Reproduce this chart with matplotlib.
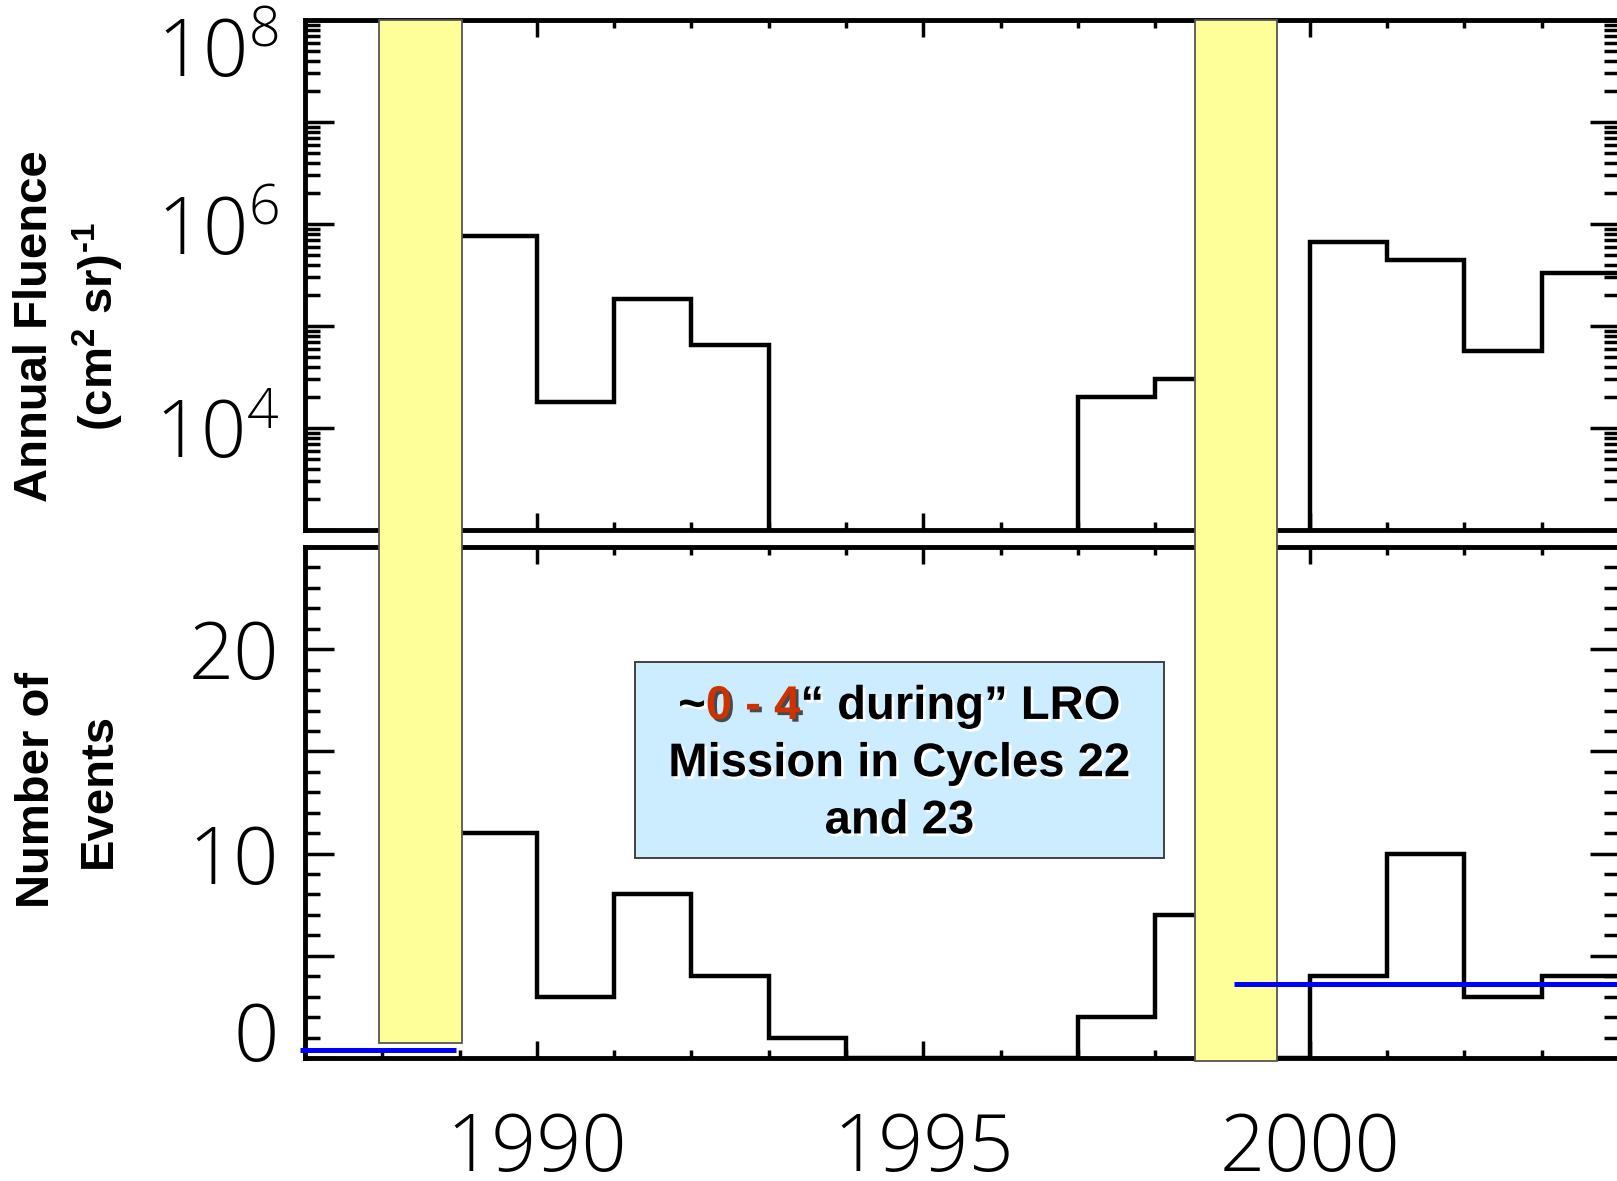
import os
import numpy as np
import matplotlib
matplotlib.use("Agg")
import matplotlib.pyplot as plt
import matplotlib.ticker as ticker
import matplotlib.transforms as mtransforms
import matplotlib.patheffects as pe
from matplotlib import font_manager
from matplotlib.ft2font import FT2Font
from matplotlib.patches import Rectangle

# yearly bins 1989..2003 (edges run to 2004)
bin_edges = np.arange(1989, 2005)
fluence = [7.6e5, 1.8e4, 1.85e5, 6.5e4, 0, 0, 0, 0, 2.0e4, 3.0e4, 0, 6.6e5, 4.4e5, 5.7e4, 3.3e5]
events = [11, 3, 8, 4, 1, 0, 0, 0, 2, 7, 0, 4, 10, 3, 4]

# LRO mission windows (yellow) and their lower end in event units
mission_years = [(1987.96, 1989.03), (1998.51, 1999.58)]
mission_bottom = [0.73, -0.16]

# blue level lines
blue_years = [(1986.93, 1988.95), (1999.02, 2004.0)]
blue_levels = [0.4, 3.6]

major_years = [1990, 1995, 2000]
box_years = (1991.27, 1998.11)
box_events = (9.8, 19.35)


def has_font(name, key):
    return any(f.name == name and key in os.path.basename(f.fname)
               for f in font_manager.fontManager.ttflist)


# thin sans for the numbers
if has_font('Open Sans', 'Light'):
    tick_family = 'Open Sans'
elif has_font('Roboto', 'Light'):
    tick_family = 'Roboto'
else:
    tick_family = 'DejaVu Sans'
plt.rcParams['font.family'] = [tick_family, 'DejaVu Sans']
plt.rcParams['font.weight'] = 300
LBL = dict(family=['Liberation Sans', 'DejaVu Sans'], weight='bold')

bold_file = font_manager.findfont(font_manager.FontProperties(family='Liberation Sans', weight='bold'))
hyphen = '\u2013'
for cp in (0x2010, 0x2011):
    if FT2Font(bold_file).get_char_index(cp):
        hyphen = chr(cp)
        break

W, H = 1617, 1181
fig = plt.figure(figsize=(W / 100, H / 100), dpi=100)
left, right = 305 / W, 1619 / W
ax1 = fig.add_axes([left, 1 - 530 / H, right - left, 510 / H])
ax2 = fig.add_axes([left, 1 - 1058 / H, right - left, 511 / H])

for ax in (ax1, ax2):
    for s in ax.spines.values():
        s.set_linewidth(3.5)
    ax.set_xlim(1987, 2004)
    ax.xaxis.set_major_locator(ticker.FixedLocator(major_years))
    ax.xaxis.set_minor_locator(ticker.MultipleLocator(1))
    ax.tick_params(axis='both', which='both', direction='in', top=True, right=True,
                   width=2.5, labelsize=57)
    ax.tick_params(axis='x', which='major', length=12, pad=38)
    ax.tick_params(axis='x', which='minor', length=6)
    ax.tick_params(axis='y', which='major', length=21, pad=19)
    ax.tick_params(axis='y', which='minor', length=11)

# top panel: annual fluence, log scale
ax1.set_yscale('log')
ax1.set_ylim(1e3, 1e8)
ax1.yaxis.set_major_locator(ticker.FixedLocator(10.0 ** np.arange(3, 9)))
ax1.yaxis.set_minor_locator(ticker.LogLocator(base=10, subs=np.arange(2, 10), numticks=40))
ax1.yaxis.set_minor_formatter(ticker.NullFormatter())


def log_label(v, pos):
    e = int(round(np.log10(v)))
    return r'$\mathregular{10^{%d}}$' % e if e % 2 == 0 else ''


ax1.yaxis.set_major_formatter(ticker.FuncFormatter(log_label))
ax1.tick_params(axis='x', labelbottom=False)
fl = np.array(fluence, dtype=float)
ax1.stairs(np.where(fl > 0, fl, 1.0), bin_edges, baseline=None, color='black', lw=3.2)

# bottom panel: number of events
ax2.set_ylim(0, 25)
ax2.yaxis.set_major_locator(ticker.FixedLocator([0, 5, 10, 15, 20, 25]))
ax2.yaxis.set_minor_locator(ticker.MultipleLocator(1))
ax2.yaxis.set_major_formatter(ticker.FuncFormatter(lambda v, p: '%d' % v if v % 10 == 0 else ''))
ax2.xaxis.set_major_formatter(ticker.FuncFormatter(lambda v, p: '%d' % v))
ax2.stairs(events, bin_edges, baseline=None, color='black', lw=3.2)

# yellow mission bands running from bottom panel up to top of upper panel
y_top = ax2.transData.inverted().transform(ax1.transAxes.transform((0, 1)))[1]
for (x0, x1), yb in zip(mission_years, mission_bottom):
    ax2.add_patch(Rectangle((x0, yb), x1 - x0, y_top - yb, facecolor='#FFFF99',
                            edgecolor='#555555', lw=1.3, clip_on=False, zorder=5))

for (x0, x1), lev in zip(blue_years, blue_levels):
    ax2.hlines(lev, x0, x1, color='#0000FF', lw=3.6, zorder=6, clip_on=False)

# annotation box
ax2.add_patch(Rectangle((box_years[0], box_events[0]), box_years[1] - box_years[0],
                        box_events[1] - box_events[0], facecolor='#CCECFF',
                        edgecolor='#333333', lw=1.3, zorder=4))
cx = sum(box_years) / 2
cy = sum(box_events) / 2 - 0.2
step = 2.8
shadow_w = [pe.withSimplePatchShadow(offset=(2, -2), shadow_rgbFace='white', alpha=1.0)]
shadow_r = [pe.withSimplePatchShadow(offset=(2, -2), shadow_rgbFace='#222222', alpha=0.8)]
ax2.text(cx, cy, 'Mission in Cycles 22', ha='center', va='center', fontsize=34,
         zorder=7, path_effects=shadow_w, **LBL)
ax2.text(cx, cy - step, 'and 23', ha='center', va='center', fontsize=34,
         zorder=7, path_effects=shadow_w, **LBL)

renderer = fig.canvas.get_renderer()
parts = [('~', 'black', shadow_w), ('0 - 4', '#CC3300', shadow_r),
         ('\u201c during\u201d LRO', 'black', shadow_w)]
pieces = [ax2.text(0, 0, s, color=c, ha='left', va='center', fontsize=34, zorder=7,
                   path_effects=p, **LBL) for s, c, p in parts]
widths = [t.get_window_extent(renderer).width for t in pieces]
px, py = ax2.transData.transform((cx, cy + step))
x = px - sum(widths) / 2
for t, w in zip(pieces, widths):
    t.set_transform(mtransforms.IdentityTransform())
    t.set_position((x, py))
    x += w

# axis titles
fig.text(35 / W, 1 - 326 / H, 'Annual Fluence', rotation=90, ha='center', va='center',
         fontsize=34, **LBL)
fig.text(98 / W, 1 - 327 / H, r'(cm$\mathregular{^{2}}$ sr)$\mathregular{^{%s1}}$' % hyphen,
         rotation=90, ha='center', va='center', fontsize=34, **LBL)
fig.text(37 / W, 1 - 790 / H, 'Number of', rotation=90, ha='center', va='center',
         fontsize=34, **LBL)
fig.text(99 / W, 1 - 790 / H, 'Events', rotation=90, ha='center', va='center',
         fontsize=34, **LBL)

# end labels are nudged inward, as in the original
fig.canvas.draw()
zero = ax2.yaxis.get_major_ticks()[0].label1
zero.set_transform(zero.get_transform() + mtransforms.ScaledTranslation(0, 0.27, fig.dpi_scale_trans))
top = ax1.yaxis.get_major_ticks()[-1].label1
top.set_transform(top.get_transform() + mtransforms.ScaledTranslation(0, -0.26, fig.dpi_scale_trans))

fig.savefig('out.png', dpi=100)
